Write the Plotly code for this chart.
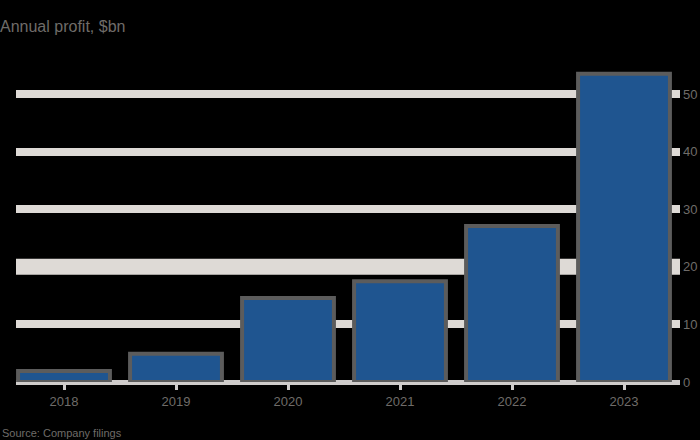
import plotly.graph_objects as go

categories = ["2018", "2019", "2020", "2021", "2022", "2023"]
values = [1.9, 4.9, 14.6, 17.5, 27.1, 53.5]
y_ticks = [0, 10, 20, 30, 40, 50]
y_tick_labels = ["0", "10", "20", "30", "40", "50"]
title_text = "Annual profit, $bn"
source_text = "Source: Company filings"

TEXT = "#6f6c69"
GRID = "#dedad6"

x_pos = list(range(len(categories)))

fig = go.Figure()
fig.add_trace(go.Bar(
    x=x_pos, y=values, width=0.82,
    marker=dict(color="#1f5590", line=dict(color="#5c5c5c", width=4)),
    hoverinfo="skip",
))

fig.update_layout(
    width=700, height=440,
    paper_bgcolor="#000000", plot_bgcolor="#000000",
    margin=dict(l=16, r=20, t=60, b=58, autoexpand=False),
    showlegend=False,
    font=dict(family="Liberation Sans, Arial", color=TEXT, size=13),
    title=dict(text=title_text, x=0, xref="container", xanchor="left",
               y=1 - 26 / 440, yref="container", yanchor="middle",
               font=dict(size=16, color=TEXT)),
    xaxis=dict(
        tickmode="array", tickvals=x_pos, ticktext=categories,
        range=[-0.4286, 5.5], showgrid=False, zeroline=False,
        ticks="outside", ticklen=7, tickwidth=3, tickcolor="#cfcccb",
        tickfont=dict(size=13, color=TEXT), showline=False, automargin=False,
    ),
    yaxis=dict(
        side="right", tickmode="array", tickvals=y_ticks, ticktext=y_tick_labels,
        range=[0, 55.9], showgrid=True, gridcolor=GRID, gridwidth=8,
        zeroline=True, zerolinecolor="#cfcccb", zerolinewidth=5,
        ticks="", tickfont=dict(size=13, color=TEXT), ticklabelstandoff=2,
        automargin=False,
    ),
    shapes=[dict(type="line", xref="paper", x0=0, x1=1, yref="y", y0=20, y1=20,
                 line=dict(color=GRID, width=16), layer="below")],
    annotations=[dict(text=source_text, xref="paper", yref="paper",
                      x=-16 / 664, y=(382 - 433) / 322, xanchor="left", yanchor="middle",
                      showarrow=False, font=dict(size=11, color=TEXT))],
)

fig.write_html("out.html", config={"displayModeBar": False},
               post_script="document.body.style.margin='0';document.body.style.background='#000';")
